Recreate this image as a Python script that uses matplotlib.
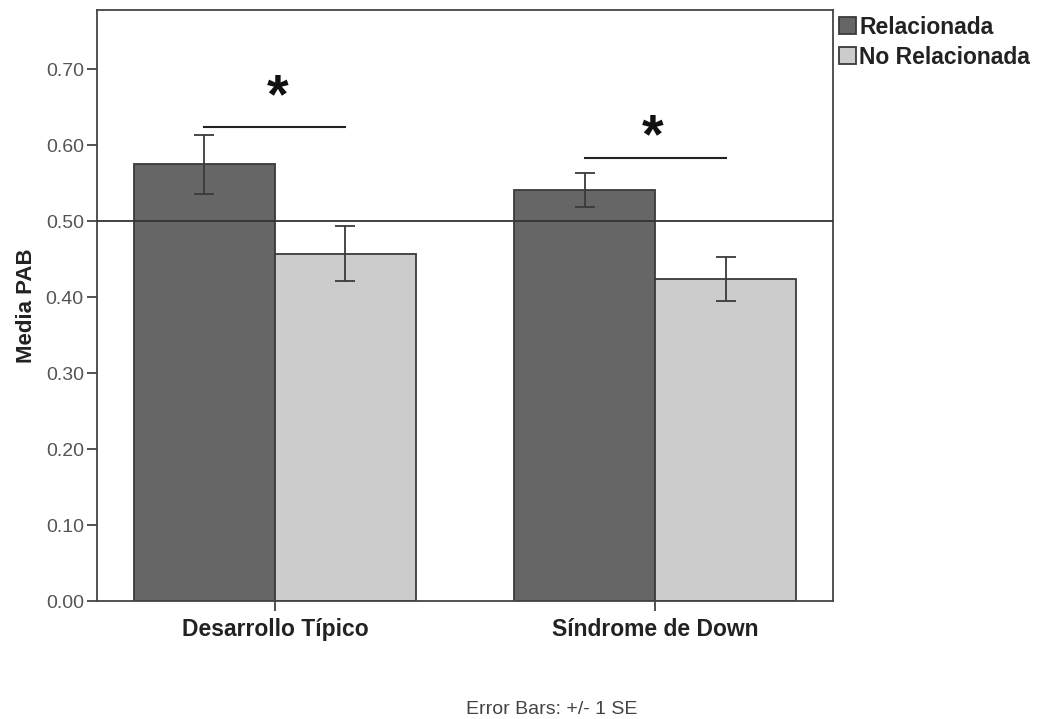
import matplotlib
matplotlib.use("Agg")
import matplotlib.pyplot as plt
import numpy as np

plt.rcParams['font.family'] = ['Liberation Sans', 'DejaVu Sans']

categories = ["Desarrollo Típico", "Síndrome de Down"]
series_names = ["Relacionada", "No Relacionada"]
rel_means = [0.575, 0.541]
rel_se = [0.039, 0.0225]
norel_means = [0.457, 0.424]
norel_se = [0.036, 0.0295]
yticks = [0.0, 0.1, 0.2, 0.3, 0.4, 0.5, 0.6, 0.7]
ref_line = 0.50
sig_heights = [0.624, 0.583]
star_heights = [0.677, 0.624]

fig = plt.figure(figsize=(10.43, 7.19), dpi=100)
ax = fig.add_axes([97/1043, 1-601/719, (833-97)/1043, (601-10)/719])

x = np.arange(len(categories))
w = 0.371
ec = '#3a3a3a'
ax.bar(x - w/2, rel_means, w, color='#666666', edgecolor=ec, linewidth=1.3, label=series_names[0], zorder=2)
ax.bar(x + w/2, norel_means, w, color='#cccccc', edgecolor=ec, linewidth=1.3, label=series_names[1], zorder=2)
ax.errorbar(x - w/2, rel_means, yerr=rel_se, fmt='none', ecolor='#3a3a3a', elinewidth=1.3, capsize=7, capthick=1.3, zorder=3)
ax.errorbar(x + w/2, norel_means, yerr=norel_se, fmt='none', ecolor='#3a3a3a', elinewidth=1.3, capsize=7, capthick=1.3, zorder=3)

ax.axhline(ref_line, color='#333333', linewidth=1.3, zorder=4)

for xi, h, sh, dx in zip(x, sig_heights, star_heights, [2, -2]):
    ax.plot([xi - w/2, xi + w/2], [h, h], color='#222222', linewidth=1.5, zorder=4)
    ax.annotate('*', xy=(xi, sh), xytext=(dx, -18.5), textcoords='offset points',
                ha='center', va='baseline', fontsize=40, fontweight='bold', color='#111111')

ax.set_xlim(-0.468, 1.468)
ax.set_ylim(0, 0.778)
ax.set_yticks(yticks)
ax.set_yticklabels([f"{t:.2f}" for t in yticks], fontsize=14, color='#555555')
ax.set_xticks(x)
ax.set_xticklabels(categories, fontsize=16.5, fontweight='bold', color='#222222')
ax.tick_params(axis='y', direction='out', length=7.5, width=1.3, color='#444444', pad=2)
ax.tick_params(axis='x', direction='out', length=7.2, width=1.3, color='#444444', pad=5)
for s in ax.spines.values():
    s.set_color('#444444')
    s.set_linewidth(1.3)
ax.set_ylabel('Media PAB', fontsize=16, fontweight='bold', color='#222222', labelpad=6)

leg = ax.legend(loc='upper left', bbox_to_anchor=(1.0, 1.0), frameon=False,
                prop={'weight': 'bold', 'size': 16.5}, handlelength=0.75, handleheight=0.75,
                handletextpad=0.15, borderaxespad=0.15, labelspacing=0.3, borderpad=0.1)
for t in leg.get_texts():
    t.set_color('#222222')

fig.text(552/1043, 1-709/719, 'Error Bars: +/- 1 SE', ha='center', va='center', fontsize=14, color='#444444')

fig.savefig('out.png', dpi=100)
